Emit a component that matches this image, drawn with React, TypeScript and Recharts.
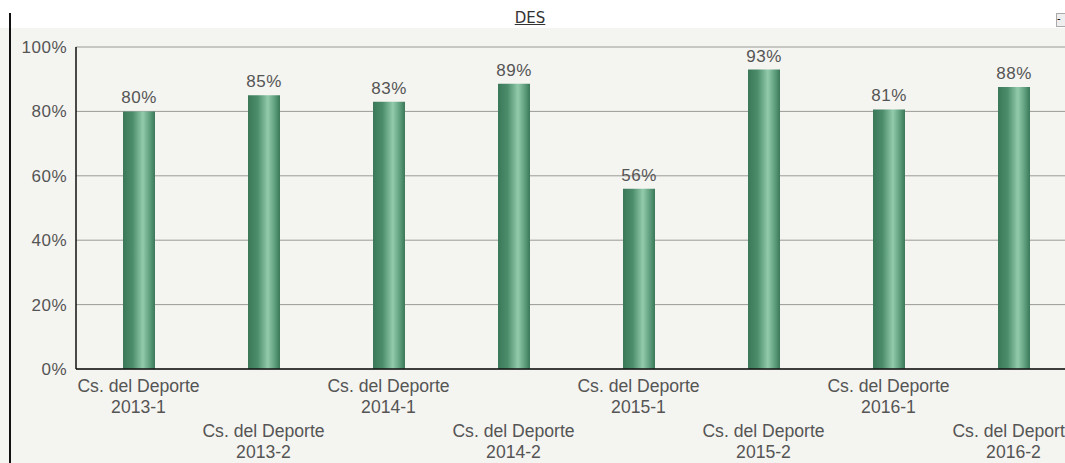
import { Bar, BarChart, CartesianGrid, LabelList, XAxis, YAxis } from "recharts"

const periods = ["2013-1", "2013-2", "2014-1", "2014-2", "2015-1", "2015-2", "2016-1", "2016-2"]
const program = "Cs. del Deporte"
const values = [80, 85, 83, 88.6, 56, 93, 80.6, 87.6]
const yTicks = [0, 20, 40, 60, 80, 100]

const data = periods.map((p, i) => ({ name: p, value: values[i] }))

const textColor = "#555"

const CatTick = (props: any) => {
  const { x, y, payload, index } = props
  const base = index % 2 === 0 ? 15 : 60
  return (
    <g transform={`translate(${x},${y})`}>
      <text textAnchor="middle" fill={textColor} fontSize={17.6} fontFamily="Liberation Sans, Arial, sans-serif">
        <tspan x={0} y={base}>{program}</tspan>
        <tspan x={0} y={base + 21}>{payload.value}</tspan>
      </text>
    </g>
  )
}

export default function App() {
  return (
    <div style={{ position: "fixed", left: 0, top: 0, width: 1065, height: 463, overflow: "hidden", background: "#fff" }}>
      <div style={{ position: "absolute", left: 0, top: 28, width: 1065, height: 435, background: "#f4f4f0" }} />
      <div style={{ position: "absolute", left: 9, top: 13, width: 2, height: 450, background: "#111" }} />
      <div
        style={{
          position: "absolute",
          left: 0,
          width: 1060,
          top: 9,
          textAlign: "center",
          fontFamily: "DejaVu Sans, Tahoma, sans-serif",
          fontSize: 15,
          color: "#333",
          textDecoration: "underline",
        }}
      >
        DES
      </div>
      <div
        style={{
          position: "absolute",
          left: 1056,
          top: 13,
          width: 12,
          height: 12,
          border: "1px solid #aaa",
          background: "#eee",
          fontSize: 10,
          lineHeight: "10px",
          fontFamily: "DejaVu Sans, sans-serif",
        }}
      >
        -
      </div>
      <div style={{ position: "absolute", left: 0, top: 0 }}>
        <BarChart width={1080} height={463} data={data} margin={{ top: 47, right: 4, left: 0, bottom: 4 }} barSize={32}>
          <defs>
            <linearGradient id="barGrad" x1="0" y1="0" x2="1" y2="0">
              <stop offset="0%" stopColor="#3a7858" />
              <stop offset="30%" stopColor="#4c8d6c" />
              <stop offset="62%" stopColor="#92cbac" />
              <stop offset="85%" stopColor="#5c9c7b" />
              <stop offset="100%" stopColor="#3a7858" />
            </linearGradient>
          </defs>
          <CartesianGrid vertical={false} stroke="#9a9a96" strokeWidth={1} />
          <XAxis
            dataKey="name"
            interval={0}
            tickLine={false}
            axisLine={{ stroke: "#111", strokeWidth: 1.5 }}
            height={90}
            tick={<CatTick />}
          />
          <YAxis
            domain={[0, 100]}
            ticks={yTicks}
            width={76}
            tickLine={false}
            axisLine={{ stroke: "#111", strokeWidth: 1.5 }}
            tickMargin={3}
            tickFormatter={(v) => `${v}%`}
            tick={{ fill: textColor, fontSize: 17, fontFamily: "Liberation Sans, Arial, sans-serif", letterSpacing: 0.5 }}
          />
          <Bar dataKey="value" fill="url(#barGrad)" isAnimationActive={false}>
            <LabelList
              dataKey="value"
              position="top"
              offset={8}
              formatter={(v: any) => `${Math.round(Number(v))}%`}
              style={{ fill: textColor, fontSize: 17, fontFamily: "Liberation Sans, Arial, sans-serif", letterSpacing: 0.5 }}
            />
          </Bar>
        </BarChart>
      </div>
    </div>
  )
}
